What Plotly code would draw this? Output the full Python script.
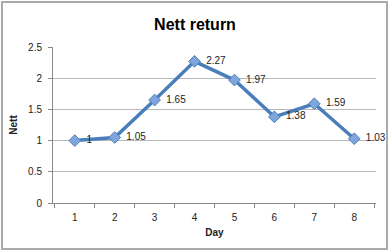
import plotly.graph_objects as go

days = ["1", "2", "3", "4", "5", "6", "7", "8"]
nett = [1.0, 1.05, 1.65, 2.27, 1.97, 1.38, 1.59, 1.03]
labels = ["1", "1.05", "1.65", "2.27", "1.97", "1.38", "1.59", "1.03"]
yticks = [0, 0.5, 1, 1.5, 2, 2.5]
yticktext = ["0", "0.5", "1", "1.5", "2", "2.5"]

font = "Liberation Sans, Arial, sans-serif"

fig = go.Figure(go.Scatter(
    x=days, y=nett, mode="lines+markers+text",
    text=["\u2002" + s for s in labels], textposition="middle right",
    textfont=dict(size=10, color="#222", family=font),
    line=dict(color="#4a7ebb", width=3.5),
    marker=dict(symbol="diamond", size=9, color="#7ea6dc",
                line=dict(color="#4a7ebb", width=1)),
    cliponaxis=False,
))

fig.update_layout(
    width=390, height=252,
    margin=dict(l=53, r=14, t=47, b=49),
    paper_bgcolor="white", plot_bgcolor="white",
    showlegend=False,
    font=dict(family=font, size=10, color="#222"),
    title=dict(text="<b>Nett return</b>", x=0.5, xanchor="center",
               y=1 - 24 / 252, yanchor="middle",
               font=dict(size=16, color="black", family=font)),
    xaxis=dict(type="category", tickson="boundaries", ticks="outside",
               ticklen=4, tickcolor="#888", showline=True, linecolor="#888",
               linewidth=1, showgrid=False, ticklabelstandoff=5,
               title=dict(text="<b>Day</b>", font=dict(size=10), standoff=6),
               tickfont=dict(size=10)),
    yaxis=dict(range=[0, 2.5], tickvals=yticks, ticktext=yticktext,
               ticks="outside", ticklen=4, tickcolor="#888",
               showline=True, linecolor="#888", linewidth=1,
               showgrid=True, gridcolor="#b8b8b8", gridwidth=1,
               zeroline=False, ticklabelstandoff=4,
               title=dict(text="<b>Nett</b>", font=dict(size=10), standoff=8),
               tickfont=dict(size=10)),
    shapes=[dict(type="rect", xref="paper", yref="paper",
                 x0=(2 - 53) / 323, x1=(387 - 53) / 323,
                 y0=(203 - 249) / 156, y1=(203 - 2) / 156,
                 line=dict(color="#aaaaaa", width=2), fillcolor="rgba(0,0,0,0)")],
)

fig.write_html("out.html")
